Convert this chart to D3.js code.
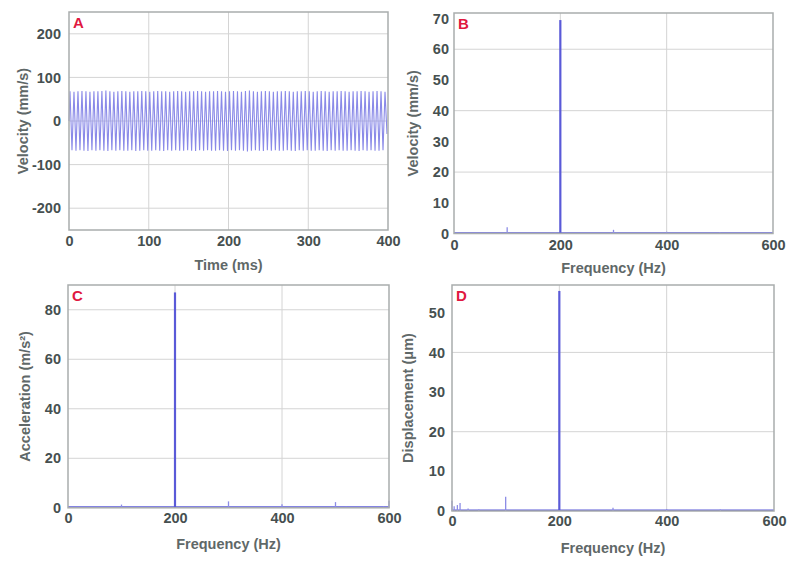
<!DOCTYPE html>
<html>
<head>
<meta charset="utf-8">
<script src="https://cdn.jsdelivr.net/npm/d3@7"></script>
<style>
  body { margin: 0; background: #fff; }
  svg { display: block; font-family: "Liberation Sans", Arial, sans-serif; font-weight: bold; }
</style>
</head>
<body>
<div id="chart"></div>
<script>
// ---- data ----
// panel A: 200 Hz velocity waveform, one peak and one trough per 5 ms cycle
var cyclePeriod = 5; // ms
var wavePeaks = [68, 67, 68, 69, 68, 67, 68, 68, 69, 70, 68, 67, 68, 69, 68, 67, 68, 68, 69, 68,
                 67, 68, 69, 68, 68, 67, 68, 69, 68, 67, 68, 68, 69, 68, 67, 68, 68, 69, 68, 67,
                 68, 69, 68, 67, 69, 70, 68, 67, 68, 69, 68, 67, 68, 68, 69, 68, 67, 68, 68, 69,
                 68, 67, 68, 69, 68, 67, 68, 68, 69, 68, 67, 68, 68, 69, 68, 67, 68, 69, 68, 67];
var waveTroughs = [-67, -68, -67, -68, -69, -67, -68, -67, -68, -69, -67, -68, -67, -68, -68, -67, -69, -68, -67, -68,
                   -68, -67, -68, -69, -67, -68, -67, -68, -68, -67, -68, -69, -67, -68, -67, -68, -68, -67, -68, -69,
                   -67, -68, -67, -68, -70, -68, -67, -68, -69, -67, -68, -67, -68, -68, -67, -68, -69, -67, -68, -67,
                   -68, -68, -67, -68, -69, -67, -68, -67, -68, -68, -67, -68, -69, -67, -68, -67, -68, -68, -67, -30];

// panel B: velocity spectrum (mm/s)
var velFreq = [100, 190, 200, 300, 400, 500];
var velAmp  = [2.0, 0.3, 69.5, 1.2, 0.6, 0.5];
var velFloor = 0.2;

// panel C: acceleration spectrum (m/s2)
var accFreq = [100, 200, 300, 400, 500, 520, 590, 600];
var accAmp  = [1.3, 87, 2.6, 1.4, 2.3, 0.5, 0.6, 2.8];
var accFloor = 0.3;

// panel D: displacement spectrum (um)
var dispFreq = [0, 4, 10, 15, 30, 50, 100, 200, 300, 400, 500];
var dispAmp  = [2.6, 1.2, 1.5, 2.0, 0.6, 0.4, 3.6, 55.5, 0.8, 0.5, 0.4];
var dispFloor = 0.2;

var timeTicks = [0, 100, 200, 300, 400];
var velTimeTicks = [-200, -100, 0, 100, 200];
var freqTicks = [0, 200, 400, 600];

// ---- layout ----
var W = 800, H = 571;
var lineColor = "#5a5ad8";
var waveColor = "#8a8ae8";
var gridColor = "#d4d4d4";
var frameColor = "#a9adad";
var tickColor = "#465050";
var titleColor = "#5f6868";
var letterColor = "#e01840";
var tickSize = 14.5;
var titleSize = 14.5;

var svg = d3.select("#chart").append("svg")
    .attr("width", W)
    .attr("height", H);

// plain hyphen for negatives, like the original
var fmt = d => String(d);

function drawFrame(p) {
    var g = svg.append("g");

    var x = d3.scaleLinear().domain(p.xDomain).range([p.left, p.right]);
    var y = d3.scaleLinear().domain(p.yDomain).range([p.bottom, p.top]);

    // grid
    g.selectAll(".vgrid")
        .data(p.xGrid)
        .enter().append("line")
        .attr("x1", d => x(d)).attr("x2", d => x(d))
        .attr("y1", p.top).attr("y2", p.bottom)
        .attr("stroke", gridColor).attr("stroke-width", 1);

    g.selectAll(".hgrid")
        .data(p.yGrid)
        .enter().append("line")
        .attr("x1", p.left).attr("x2", p.right)
        .attr("y1", d => y(d)).attr("y2", d => y(d))
        .attr("stroke", gridColor).attr("stroke-width", 1);

    // axes (labels only, frame drawn later)
    var xAxis = d3.axisBottom(x).tickValues(p.xTicks).tickFormat(fmt).tickSize(0).tickPadding(0);
    g.append("g")
        .attr("transform", "translate(0," + p.xLabelY + ")")
        .call(xAxis)
        .call(a => a.select(".domain").remove())
        .selectAll("text")
        .attr("fill", tickColor)
        .attr("font-size", tickSize)
        .attr("font-family", "Liberation Sans, Arial, sans-serif")
        .attr("font-weight", "bold");

    var yAxis = d3.axisLeft(y).tickValues(p.yTicks).tickFormat(fmt).tickSize(0).tickPadding(p.yPad);
    g.append("g")
        .attr("transform", "translate(" + p.left + ",0)")
        .call(yAxis)
        .call(a => a.select(".domain").remove())
        .selectAll("text")
        .attr("fill", tickColor)
        .attr("font-size", tickSize)
        .attr("font-family", "Liberation Sans, Arial, sans-serif")
        .attr("font-weight", "bold");

    // axis titles
    g.append("text")
        .attr("x", (p.left + p.right) / 2)
        .attr("y", p.xTitleY)
        .attr("text-anchor", "middle")
        .attr("fill", titleColor)
        .attr("font-size", titleSize)
        .text(p.xTitle);

    g.append("text")
        .attr("transform", "translate(" + p.yTitleX + "," + ((p.top + p.bottom) / 2) + ")rotate(-90)")
        .attr("text-anchor", "middle")
        .attr("dy", "0.35em")
        .attr("fill", titleColor)
        .attr("font-size", titleSize)
        .text(p.yTitle);

    p.x = x;
    p.y = y;
    p.g = g;
    return p;
}

function finishFrame(p) {
    p.g.append("rect")
        .attr("x", p.left).attr("y", p.top)
        .attr("width", p.right - p.left)
        .attr("height", p.bottom - p.top)
        .attr("fill", "none")
        .attr("stroke", frameColor)
        .attr("stroke-width", 1.5);

    p.g.append("text")
        .attr("x", p.left + 4)
        .attr("y", p.top + 4)
        .attr("dy", "0.8em")
        .attr("fill", letterColor)
        .attr("font-size", 15)
        .text(p.letter);
}

function drawSpectrum(p, freqs, amps, floor) {
    var x = p.x, y = p.y;
    // noise floor
    p.g.append("line")
        .attr("x1", p.left).attr("x2", p.right)
        .attr("y1", y(floor)).attr("y2", y(floor))
        .attr("stroke", lineColor).attr("stroke-width", 1.5);

    var maxAmp = d3.max(amps);
    p.g.selectAll(".stem")
        .data(freqs.map((f, i) => ({ f: f, a: amps[i] })))
        .enter().append("line")
        .attr("x1", d => x(d.f)).attr("x2", d => x(d.f))
        .attr("y1", y(0)).attr("y2", d => y(d.a))
        .attr("stroke", d => d.a === maxAmp ? lineColor : "#8c8ce6")
        .attr("stroke-width", d => d.a === maxAmp ? 2.2 : 1.3);
}

// ---- panel A ----
var pA = drawFrame({
    letter: "A", left: 69, right: 388, top: 12, bottom: 230,
    xDomain: [0, 400], yDomain: [-250, 250],
    xTicks: timeTicks, yTicks: velTimeTicks,
    xGrid: [100, 200, 300], yGrid: [-200, -100, 0, 100, 200],
    xLabelY: 236, yPad: 8, xTitleY: 270, yTitleX: 23,
    xTitle: "Time (ms)", yTitle: "Velocity (mm/s)"
});

var wavePts = [[0, 0]];
wavePeaks.forEach(function (v, i) {
    wavePts.push([i * cyclePeriod + cyclePeriod / 4, v]);
    wavePts.push([i * cyclePeriod + cyclePeriod * 3 / 4, waveTroughs[i]]);
});
var waveLine = d3.line()
    .x(d => pA.x(d[0]))
    .y(d => pA.y(d[1]));
pA.g.append("path")
    .attr("d", waveLine(wavePts))
    .attr("fill", "none")
    .attr("stroke", waveColor)
    .attr("stroke-width", 1.1);
finishFrame(pA);

// ---- panel B ----
var pB = drawFrame({
    letter: "B", left: 454, right: 773, top: 13, bottom: 233.5,
    xDomain: [0, 600], yDomain: [0, 71.8],
    xTicks: freqTicks, yTicks: [0, 10, 20, 30, 40, 50, 60, 70],
    xGrid: [200, 400], yGrid: [20, 40, 60],
    xLabelY: 240, yPad: 5, xTitleY: 273, yTitleX: 413,
    xTitle: "Frequency (Hz)", yTitle: "Velocity (mm/s)"
});
drawSpectrum(pB, velFreq, velAmp, velFloor);
finishFrame(pB);

// ---- panel C ----
var pC = drawFrame({
    letter: "C", left: 68, right: 389, top: 285, bottom: 507.8,
    xDomain: [0, 600], yDomain: [0, 90],
    xTicks: freqTicks, yTicks: [0, 20, 40, 60, 80],
    xGrid: [200, 400], yGrid: [20, 40, 60, 80],
    xLabelY: 513, yPad: 7, xTitleY: 549, yTitleX: 25,
    xTitle: "Frequency (Hz)", yTitle: "Acceleration (m/s\u00b2)"
});
drawSpectrum(pC, accFreq, accAmp, accFloor);
finishFrame(pC);

// ---- panel D ----
var pD = drawFrame({
    letter: "D", left: 452, right: 774, top: 285, bottom: 511,
    xDomain: [0, 600], yDomain: [0, 57],
    xTicks: freqTicks, yTicks: [0, 10, 20, 30, 40, 50],
    xGrid: [200, 400], yGrid: [20, 40],
    xLabelY: 516, yPad: 7, xTitleY: 553, yTitleX: 408,
    xTitle: "Frequency (Hz)", yTitle: "Displacement (\u03bcm)"
});
drawSpectrum(pD, dispFreq, dispAmp, dispFloor);
finishFrame(pD);
</script>
</body>
</html>
